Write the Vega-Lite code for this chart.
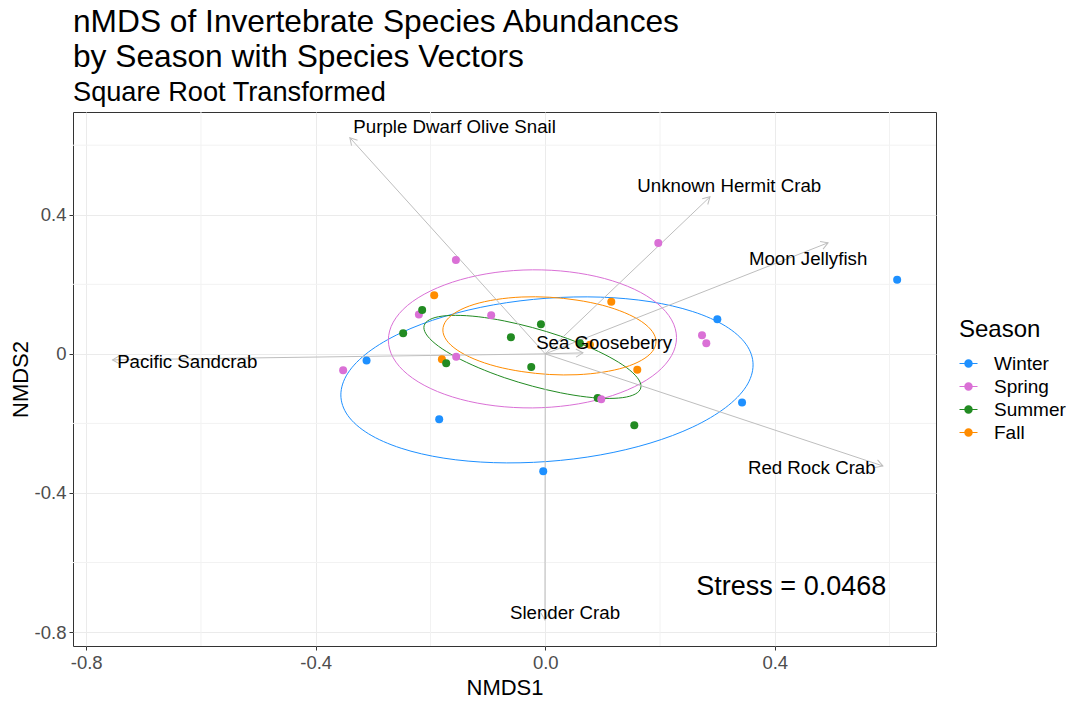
{
  "$schema": "https://vega.github.io/schema/vega-lite/v6.json",
  "width": 863,
  "height": 534,
  "autosize": {"type": "none"},
  "padding": {"left": 73, "top": 112, "right": 144, "bottom": 58},
  "background": "white",
  "title": {
    "text": ["nMDS of Invertebrate Species Abundances", "by Season with Species Vectors"],
    "subtitle": "Square Root Transformed",
    "anchor": "start",
    "frame": "group",
    "font": "Liberation Sans",
    "fontSize": 31.7,
    "fontWeight": "normal",
    "color": "black",
    "lineHeight": 35,
    "subtitleFont": "Liberation Sans",
    "subtitleFontSize": 27.2,
    "subtitleColor": "black",
    "subtitlePadding": 7,
    "offset": 5
  },
  "config": {
    "font": "Liberation Sans",
    "view": {"stroke": "#333333", "strokeWidth": 1},
    "axis": {
      "domain": false,
      "grid": true,
      "gridColor": "#EBEBEB",
      "gridWidth": 1,
      "tickColor": "#333333",
      "tickSize": 4,
      "labelColor": "#4D4D4D",
      "labelFont": "Liberation Sans",
      "labelFontSize": 18.5,
      "labelPadding": 3,
      "titleFont": "Liberation Sans",
      "titleFontSize": 22,
      "titleFontWeight": "normal",
      "titleColor": "black"
    }
  },
  "datasets": {
    "sites": [
      {"Season": "Fall", "NMDS1": -0.1935, "NMDS2": 0.1689},
      {"Season": "Fall", "NMDS1": 0.1151, "NMDS2": 0.1496},
      {"Season": "Fall", "NMDS1": -0.1801, "NMDS2": -0.0153},
      {"Season": "Fall", "NMDS1": 0.1604, "NMDS2": -0.046},
      {"Season": "Fall", "NMDS1": 0.0779, "NMDS2": 0.0259},
      {"Season": "Spring", "NMDS1": -0.2202, "NMDS2": 0.1131},
      {"Season": "Summer", "NMDS1": -0.2145, "NMDS2": 0.1258},
      {"Season": "Summer", "NMDS1": -0.2476, "NMDS2": 0.0596},
      {"Season": "Summer", "NMDS1": -0.0598, "NMDS2": 0.0481},
      {"Season": "Summer", "NMDS1": -0.1726, "NMDS2": -0.0268},
      {"Season": "Summer", "NMDS1": -0.0075, "NMDS2": 0.0855},
      {"Season": "Summer", "NMDS1": -0.0244, "NMDS2": -0.0374},
      {"Season": "Summer", "NMDS1": 0.0914, "NMDS2": -0.1266},
      {"Season": "Summer", "NMDS1": 0.1552, "NMDS2": -0.2052},
      {"Season": "Summer", "NMDS1": 0.0605, "NMDS2": 0.0308},
      {"Season": "Spring", "NMDS1": -0.1557, "NMDS2": 0.2696},
      {"Season": "Spring", "NMDS1": 0.197, "NMDS2": 0.3186},
      {"Season": "Spring", "NMDS1": -0.0942, "NMDS2": 0.1114},
      {"Season": "Spring", "NMDS1": -0.1552, "NMDS2": -0.0086},
      {"Season": "Spring", "NMDS1": -0.3522, "NMDS2": -0.0469},
      {"Season": "Spring", "NMDS1": 0.2732, "NMDS2": 0.0538},
      {"Season": "Spring", "NMDS1": 0.2807, "NMDS2": 0.0308},
      {"Season": "Spring", "NMDS1": 0.0976, "NMDS2": -0.1304},
      {"Season": "Winter", "NMDS1": 0.6133, "NMDS2": 0.2129},
      {"Season": "Winter", "NMDS1": 0.2999, "NMDS2": 0.0999},
      {"Season": "Winter", "NMDS1": 0.343, "NMDS2": -0.1396},
      {"Season": "Winter", "NMDS1": -0.3114, "NMDS2": -0.0193},
      {"Season": "Winter", "NMDS1": -0.1848, "NMDS2": -0.1879},
      {"Season": "Winter", "NMDS1": -0.0035, "NMDS2": -0.3376}
    ],
    "ellipses": [
      {"Season": "Winter", "i": 0, "NMDS1": 0.3622, "NMDS2": -0.0317},
      {"Season": "Winter", "i": 1, "NMDS1": 0.35, "NMDS2": -0.0941},
      {"Season": "Winter", "i": 2, "NMDS1": 0.314, "NMDS2": -0.1548},
      {"Season": "Winter", "i": 3, "NMDS1": 0.257, "NMDS2": -0.2104},
      {"Season": "Winter", "i": 4, "NMDS1": 0.1826, "NMDS2": -0.2567},
      {"Season": "Winter", "i": 5, "NMDS1": 0.0959, "NMDS2": -0.2906},
      {"Season": "Winter", "i": 6, "NMDS1": 0.003, "NMDS2": -0.3096},
      {"Season": "Winter", "i": 7, "NMDS1": -0.09, "NMDS2": -0.3128},
      {"Season": "Winter", "i": 8, "NMDS1": -0.1766, "NMDS2": -0.2999},
      {"Season": "Winter", "i": 9, "NMDS1": -0.2511, "NMDS2": -0.2714},
      {"Season": "Winter", "i": 10, "NMDS1": -0.3081, "NMDS2": -0.2296},
      {"Season": "Winter", "i": 11, "NMDS1": -0.344, "NMDS2": -0.1773},
      {"Season": "Winter", "i": 12, "NMDS1": -0.3562, "NMDS2": -0.118},
      {"Season": "Winter", "i": 13, "NMDS1": -0.344, "NMDS2": -0.0555},
      {"Season": "Winter", "i": 14, "NMDS1": -0.3081, "NMDS2": 0.0052},
      {"Season": "Winter", "i": 15, "NMDS1": -0.2511, "NMDS2": 0.0607},
      {"Season": "Winter", "i": 16, "NMDS1": -0.1766, "NMDS2": 0.1071},
      {"Season": "Winter", "i": 17, "NMDS1": -0.09, "NMDS2": 0.141},
      {"Season": "Winter", "i": 18, "NMDS1": 0.003, "NMDS2": 0.16},
      {"Season": "Winter", "i": 19, "NMDS1": 0.0959, "NMDS2": 0.1632},
      {"Season": "Winter", "i": 20, "NMDS1": 0.1826, "NMDS2": 0.1502},
      {"Season": "Winter", "i": 21, "NMDS1": 0.257, "NMDS2": 0.1217},
      {"Season": "Winter", "i": 22, "NMDS1": 0.314, "NMDS2": 0.08},
      {"Season": "Winter", "i": 23, "NMDS1": 0.35, "NMDS2": 0.0276},
      {"Season": "Spring", "i": 0, "NMDS1": 0.2288, "NMDS2": 0.0466},
      {"Season": "Spring", "i": 1, "NMDS1": 0.2202, "NMDS2": -0.0049},
      {"Season": "Spring", "i": 2, "NMDS1": 0.1951, "NMDS2": -0.0532},
      {"Season": "Spring", "i": 3, "NMDS1": 0.1552, "NMDS2": -0.0947},
      {"Season": "Spring", "i": 4, "NMDS1": 0.1032, "NMDS2": -0.1269},
      {"Season": "Spring", "i": 5, "NMDS1": 0.0427, "NMDS2": -0.1476},
      {"Season": "Spring", "i": 6, "NMDS1": -0.0223, "NMDS2": -0.1554},
      {"Season": "Spring", "i": 7, "NMDS1": -0.0874, "NMDS2": -0.1494},
      {"Season": "Spring", "i": 8, "NMDS1": -0.1479, "NMDS2": -0.1304},
      {"Season": "Spring", "i": 9, "NMDS1": -0.1998, "NMDS2": -0.0996},
      {"Season": "Spring", "i": 10, "NMDS1": -0.2398, "NMDS2": -0.059},
      {"Season": "Spring", "i": 11, "NMDS1": -0.2649, "NMDS2": -0.0115},
      {"Season": "Spring", "i": 12, "NMDS1": -0.2734, "NMDS2": 0.0397},
      {"Season": "Spring", "i": 13, "NMDS1": -0.2649, "NMDS2": 0.0912},
      {"Season": "Spring", "i": 14, "NMDS1": -0.2398, "NMDS2": 0.1396},
      {"Season": "Spring", "i": 15, "NMDS1": -0.1998, "NMDS2": 0.181},
      {"Season": "Spring", "i": 16, "NMDS1": -0.1479, "NMDS2": 0.2132},
      {"Season": "Spring", "i": 17, "NMDS1": -0.0874, "NMDS2": 0.234},
      {"Season": "Spring", "i": 18, "NMDS1": -0.0223, "NMDS2": 0.2417},
      {"Season": "Spring", "i": 19, "NMDS1": 0.0427, "NMDS2": 0.2357},
      {"Season": "Spring", "i": 20, "NMDS1": 0.1032, "NMDS2": 0.2167},
      {"Season": "Spring", "i": 21, "NMDS1": 0.1552, "NMDS2": 0.1859},
      {"Season": "Spring", "i": 22, "NMDS1": 0.1951, "NMDS2": 0.1453},
      {"Season": "Spring", "i": 23, "NMDS1": 0.2202, "NMDS2": 0.0978},
      {"Season": "Summer", "i": 0, "NMDS1": 0.1669, "NMDS2": -0.0929},
      {"Season": "Summer", "i": 1, "NMDS1": 0.1604, "NMDS2": -0.1119},
      {"Season": "Summer", "i": 2, "NMDS1": 0.1416, "NMDS2": -0.124},
      {"Season": "Summer", "i": 3, "NMDS1": 0.1114, "NMDS2": -0.1281},
      {"Season": "Summer", "i": 4, "NMDS1": 0.0723, "NMDS2": -0.124},
      {"Season": "Summer", "i": 5, "NMDS1": 0.0267, "NMDS2": -0.1119},
      {"Season": "Summer", "i": 6, "NMDS1": -0.0223, "NMDS2": -0.0929},
      {"Season": "Summer", "i": 7, "NMDS1": -0.0713, "NMDS2": -0.0683},
      {"Season": "Summer", "i": 8, "NMDS1": -0.1169, "NMDS2": -0.0394},
      {"Season": "Summer", "i": 9, "NMDS1": -0.1561, "NMDS2": -0.0086},
      {"Season": "Summer", "i": 10, "NMDS1": -0.1862, "NMDS2": 0.0222},
      {"Season": "Summer", "i": 11, "NMDS1": -0.2051, "NMDS2": 0.0511},
      {"Season": "Summer", "i": 12, "NMDS1": -0.2115, "NMDS2": 0.0757},
      {"Season": "Summer", "i": 13, "NMDS1": -0.2051, "NMDS2": 0.0947},
      {"Season": "Summer", "i": 14, "NMDS1": -0.1862, "NMDS2": 0.1068},
      {"Season": "Summer", "i": 15, "NMDS1": -0.1561, "NMDS2": 0.1108},
      {"Season": "Summer", "i": 16, "NMDS1": -0.1169, "NMDS2": 0.1068},
      {"Season": "Summer", "i": 17, "NMDS1": -0.0713, "NMDS2": 0.0947},
      {"Season": "Summer", "i": 18, "NMDS1": -0.0223, "NMDS2": 0.0757},
      {"Season": "Summer", "i": 19, "NMDS1": 0.0267, "NMDS2": 0.0511},
      {"Season": "Summer", "i": 20, "NMDS1": 0.0723, "NMDS2": 0.0222},
      {"Season": "Summer", "i": 21, "NMDS1": 0.1114, "NMDS2": -0.0086},
      {"Season": "Summer", "i": 22, "NMDS1": 0.1416, "NMDS2": -0.0394},
      {"Season": "Summer", "i": 23, "NMDS1": 0.1604, "NMDS2": -0.0683},
      {"Season": "Fall", "i": 0, "NMDS1": 0.193, "NMDS2": 0.0351},
      {"Season": "Fall", "i": 1, "NMDS1": 0.1867, "NMDS2": 0.0069},
      {"Season": "Fall", "i": 2, "NMDS1": 0.1681, "NMDS2": -0.0181},
      {"Season": "Fall", "i": 3, "NMDS1": 0.1386, "NMDS2": -0.0386},
      {"Season": "Fall", "i": 4, "NMDS1": 0.1002, "NMDS2": -0.0527},
      {"Season": "Fall", "i": 5, "NMDS1": 0.0554, "NMDS2": -0.0599},
      {"Season": "Fall", "i": 6, "NMDS1": 0.0073, "NMDS2": -0.0593},
      {"Season": "Fall", "i": 7, "NMDS1": -0.0408, "NMDS2": -0.0509},
      {"Season": "Fall", "i": 8, "NMDS1": -0.0855, "NMDS2": -0.036},
      {"Season": "Fall", "i": 9, "NMDS1": -0.124, "NMDS2": -0.0147},
      {"Season": "Fall", "i": 10, "NMDS1": -0.1534, "NMDS2": 0.0109},
      {"Season": "Fall", "i": 11, "NMDS1": -0.1721, "NMDS2": 0.0394},
      {"Season": "Fall", "i": 12, "NMDS1": -0.1784, "NMDS2": 0.0685},
      {"Season": "Fall", "i": 13, "NMDS1": -0.1721, "NMDS2": 0.0967},
      {"Season": "Fall", "i": 14, "NMDS1": -0.1534, "NMDS2": 0.1217},
      {"Season": "Fall", "i": 15, "NMDS1": -0.124, "NMDS2": 0.1422},
      {"Season": "Fall", "i": 16, "NMDS1": -0.0855, "NMDS2": 0.1563},
      {"Season": "Fall", "i": 17, "NMDS1": -0.0408, "NMDS2": 0.1635},
      {"Season": "Fall", "i": 18, "NMDS1": 0.0073, "NMDS2": 0.1629},
      {"Season": "Fall", "i": 19, "NMDS1": 0.0554, "NMDS2": 0.1545},
      {"Season": "Fall", "i": 20, "NMDS1": 0.1002, "NMDS2": 0.1396},
      {"Season": "Fall", "i": 21, "NMDS1": 0.1386, "NMDS2": 0.1183},
      {"Season": "Fall", "i": 22, "NMDS1": 0.1681, "NMDS2": 0.0927},
      {"Season": "Fall", "i": 23, "NMDS1": 0.1867, "NMDS2": 0.0642}
    ],
    "species": [
      {"Species": "Purple Dwarf Olive Snail", "NMDS1": -0.3405, "NMDS2": 0.6216, "lx": -0.158, "ly": 0.6518},
      {"Species": "Unknown Hermit Crab", "NMDS1": 0.2872, "NMDS2": 0.4518, "lx": 0.3207, "ly": 0.482},
      {"Species": "Moon Jellyfish", "NMDS1": 0.4929, "NMDS2": 0.3194, "lx": 0.4581, "ly": 0.2733},
      {"Species": "Sea Gooseberry", "NMDS1": 0.0657, "NMDS2": 0.0029, "lx": 0.1027, "ly": 0.0307},
      {"Species": "Pacific Sandcrab", "NMDS1": -0.7541, "NMDS2": -0.0173, "lx": -0.6239, "ly": -0.0245},
      {"Species": "Red Rock Crab", "NMDS1": 0.5885, "NMDS2": -0.3223, "lx": 0.4645, "ly": -0.3287},
      {"Species": "Slender Crab", "NMDS1": -0.0005, "NMDS2": -0.7655, "lx": 0.0344, "ly": -0.7463}
    ],
    "minorX": [{"v": -0.6}, {"v": -0.2}, {"v": 0.2}, {"v": 0.6}],
    "minorY": [{"v": -0.6}, {"v": -0.2}, {"v": 0.2}, {"v": 0.6}],
    "stress": [{"label": "Stress = 0.0468", "NMDS1": 0.4288, "NMDS2": -0.6705}]
  },
  "layer": [
    {
      "data": {"name": "minorX"},
      "mark": {"type": "rule", "color": "#F2F2F2", "strokeWidth": 1},
      "encoding": {
        "x": {"field": "v", "type": "quantitative", "scale": {"domain": [-0.823, 0.681], "nice": false, "zero": false},
              "axis": {"title": "NMDS1", "values": [-0.8, -0.4, 0, 0.4], "titlePadding": 6,
                       "labelExpr": "datum.value == 0 ? '0.0' : (datum.value < 0 ? '-' + format(-datum.value, '.1f') : format(datum.value, '.1f'))"}}
      }
    },
    {
      "data": {"name": "minorY"},
      "mark": {"type": "rule", "color": "#F2F2F2", "strokeWidth": 1},
      "encoding": {
        "y": {"field": "v", "type": "quantitative", "scale": {"domain": [-0.84, 0.6955], "nice": false, "zero": false},
              "axis": {"title": "NMDS2", "values": [-0.8, -0.4, 0, 0.4], "titlePadding": 2,
                       "labelExpr": "datum.value == 0 ? '0' : (datum.value < 0 ? '-' + format(-datum.value, '.1f') : format(datum.value, '.1f'))"}}
      }
    },
    {
      "data": {"name": "ellipses"},
      "mark": {"type": "line", "interpolate": "cardinal-closed", "strokeWidth": 1},
      "encoding": {
        "x": {"field": "NMDS1", "type": "quantitative"},
        "y": {"field": "NMDS2", "type": "quantitative"},
        "color": {"field": "Season", "type": "nominal",
                  "scale": {"domain": ["Winter", "Spring", "Summer", "Fall"], "range": ["#1E90FF", "#DA70D6", "#228B22", "#FF8C00"]}},
        "detail": {"field": "Season", "type": "nominal"},
        "order": {"field": "i", "type": "quantitative"}
      }
    },
    {
      "data": {"name": "species"},
      "mark": {"type": "rule", "color": "#BEBEBE", "strokeWidth": 1},
      "encoding": {
        "x": {"field": "NMDS1", "type": "quantitative"},
        "y": {"field": "NMDS2", "type": "quantitative"},
        "x2": {"datum": 0},
        "y2": {"datum": 0}
      }
    },
    {
      "data": {"name": "species"},
      "transform": [
        {"calculate": "atan2(-datum.NMDS2 * 347.5, datum.NMDS1 * 573.5) * 180 / PI", "as": "heading"}
      ],
      "mark": {"type": "point", "shape": "M -1 -0.577 L 0 0 L -1 0.577", "filled": false, "stroke": "#BEBEBE", "strokeWidth": 1, "size": 196, "opacity": 1},
      "encoding": {
        "x": {"field": "NMDS1", "type": "quantitative"},
        "y": {"field": "NMDS2", "type": "quantitative"},
        "angle": {"field": "heading", "type": "quantitative", "scale": null}
      }
    },
    {
      "data": {"name": "sites"},
      "mark": {"type": "point", "filled": true, "size": 64, "opacity": 1, "strokeWidth": 0},
      "encoding": {
        "x": {"field": "NMDS1", "type": "quantitative"},
        "y": {"field": "NMDS2", "type": "quantitative"},
        "color": {"field": "Season", "type": "nominal",
                  "scale": {"domain": ["Winter", "Spring", "Summer", "Fall"], "range": ["#1E90FF", "#DA70D6", "#228B22", "#FF8C00"]},
                  "legend": {
                    "title": "Season",
                    "orient": "none",
                    "legendX": 886,
                    "legendY": 206,
                    "padding": 0,
                    "titleFont": "Liberation Sans",
                    "titleFontSize": 24,
                    "titleFontWeight": "normal",
                    "titleColor": "black",
                    "titlePadding": 12,
                    "labelFont": "Liberation Sans",
                    "labelFontSize": 19,
                    "labelColor": "black",
                    "labelOffset": 16,
                    "rowPadding": 3,
                    "symbolType": "M -1 -0.06 H 1 V 0.06 H -1 Z M 0.47 0 A 0.47 0.47 0 1 1 -0.47 0 A 0.47 0.47 0 1 1 0.47 0 Z",
                    "symbolSize": 324,
                    "symbolStrokeWidth": 0,
                    "symbolOpacity": 1
                  }}
      }
    },
    {
      "data": {"name": "species"},
      "mark": {"type": "text", "fontSize": 18.7, "color": "black", "align": "center", "baseline": "middle"},
      "encoding": {
        "x": {"field": "lx", "type": "quantitative"},
        "y": {"field": "ly", "type": "quantitative"},
        "text": {"field": "Species", "type": "nominal"}
      }
    },
    {
      "data": {"name": "stress"},
      "mark": {"type": "text", "fontSize": 27, "color": "black", "align": "center", "baseline": "middle"},
      "encoding": {
        "x": {"field": "NMDS1", "type": "quantitative"},
        "y": {"field": "NMDS2", "type": "quantitative"},
        "text": {"field": "label", "type": "nominal"}
      }
    }
  ]
}
